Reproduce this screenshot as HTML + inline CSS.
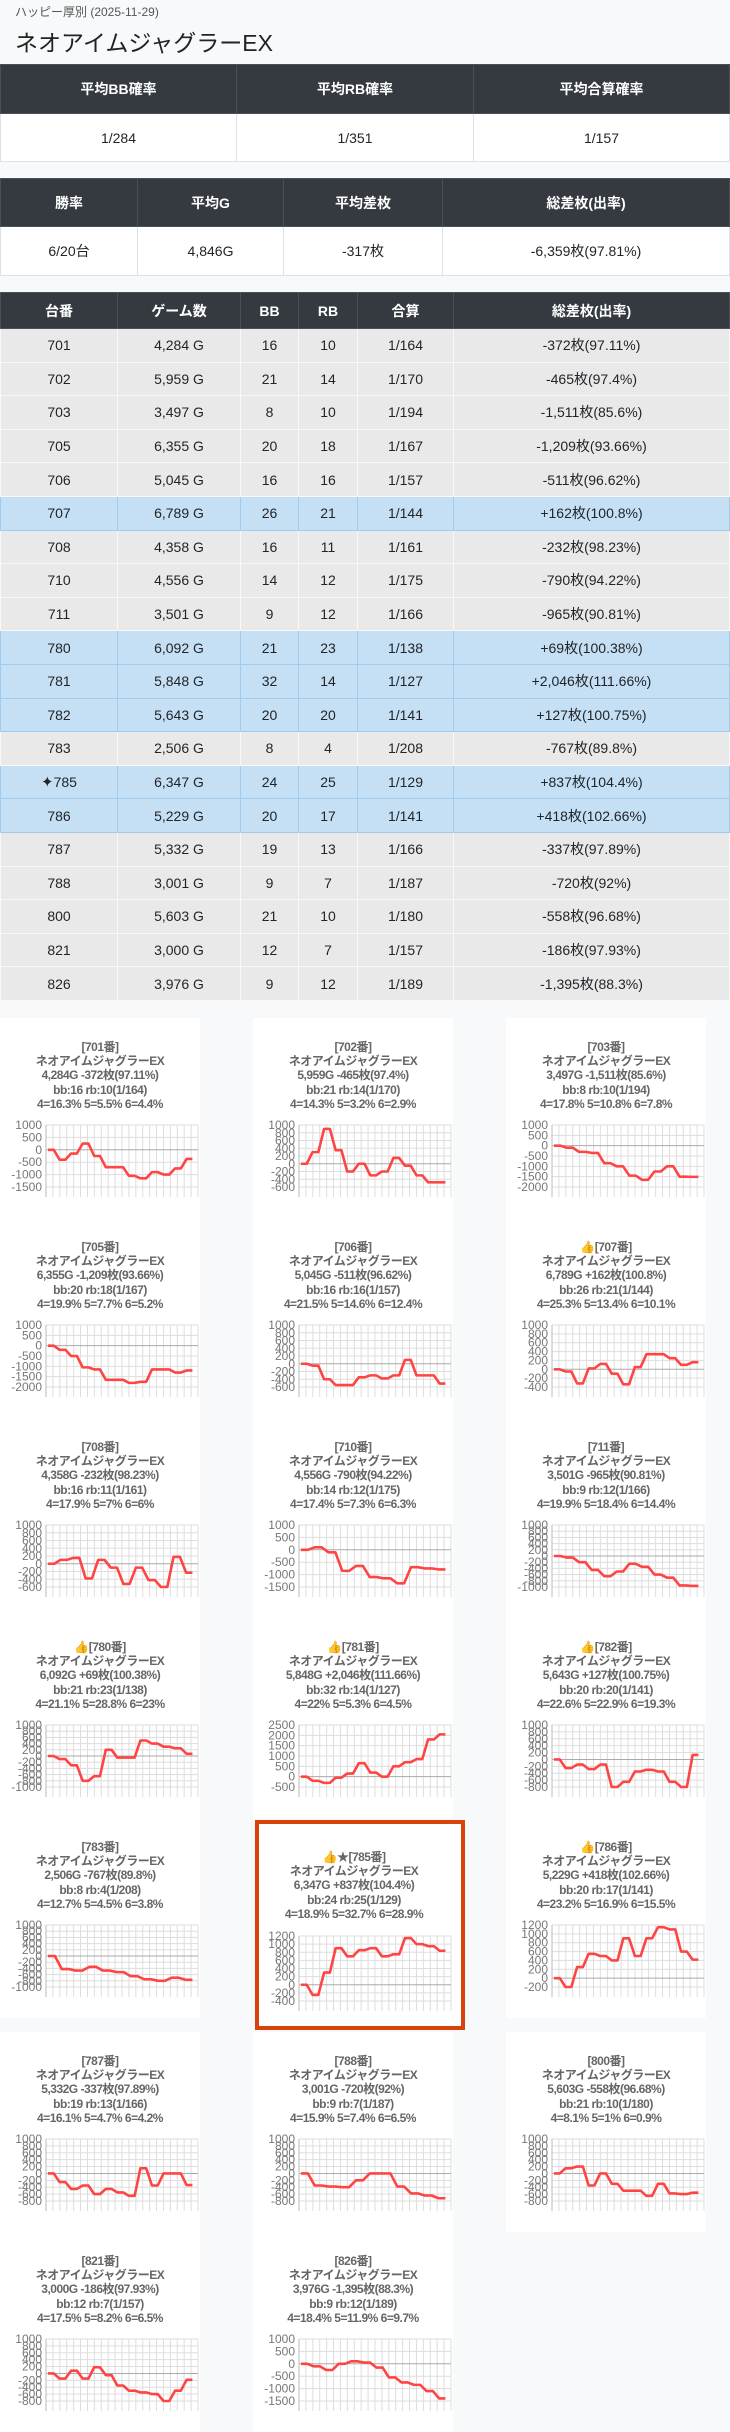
<!DOCTYPE html>
<html><head><meta charset="utf-8">
<style>
*{margin:0;padding:0;box-sizing:border-box}
body{width:730px;height:2431px;background:#f8f9fa;font-family:"Liberation Sans","Noto Sans CJK JP",sans-serif;color:#212529;position:relative;overflow:hidden}
.sub{position:absolute;left:15px;top:3px;font-size:12px;color:#555}
.ttl{position:absolute;left:15px;top:24px;font-size:23px;color:#222}
table{position:absolute;left:0;width:730px;border-collapse:collapse;table-layout:fixed;font-size:14px;text-align:center}
th{background:#343a40;color:#fff;font-weight:bold;border:1px solid #4a5058}
td{border:1px solid #dee2e6;background:#fff}
#t3 td{background:#e9e9e9;border:1px solid #f8f8f8}
#t3 tr.b td{background:#c5e0f5;border:1px solid #9fcbef}
.card{position:absolute;width:200px;height:200px;background:#fff}
.card .tx{position:absolute;left:0;width:100%;top:22px;text-align:center;font-size:12px;font-weight:bold;color:#666;line-height:14.2px;letter-spacing:-0.5px}
.card svg{position:absolute;left:0;top:0}
.hl{border:4px solid #d9420b;height:210px;width:210px}
</style></head><body>
<div class="sub">ハッピー厚別 (2025-11-29)</div>
<div class="ttl">ネオアイムジャグラーEX</div>

<table style="top:64px"><colgroup><col style="width:236px"><col style="width:237px"><col></colgroup>
<tr style="height:49px"><th>平均BB確率</th><th>平均RB確率</th><th>平均合算確率</th></tr>
<tr style="height:48px"><td>1/284</td><td>1/351</td><td>1/157</td></tr></table>

<table style="top:178px"><colgroup><col style="width:137px"><col style="width:146px"><col style="width:159px"><col></colgroup>
<tr style="height:48px"><th>勝率</th><th>平均G</th><th>平均差枚</th><th>総差枚(出率)</th></tr>
<tr style="height:49px"><td>6/20台</td><td>4,846G</td><td>-317枚</td><td>-6,359枚(97.81%)</td></tr></table>

<table id="t3" style="top:292px"><colgroup><col style="width:117px"><col style="width:123px"><col style="width:58px"><col style="width:59px"><col style="width:96px"><col></colgroup>
<tr style="height:36px"><th>台番</th><th>ゲーム数</th><th>BB</th><th>RB</th><th>合算</th><th>総差枚(出率)</th></tr>
<tbody id="rows"></tbody></table>

<div id="cards"></div>

<script>
const R=[
["701","4,284",16,10,"1/164","-372枚(97.11%)",0],
["702","5,959",21,14,"1/170","-465枚(97.4%)",0],
["703","3,497",8,10,"1/194","-1,511枚(85.6%)",0],
["705","6,355",20,18,"1/167","-1,209枚(93.66%)",0],
["706","5,045",16,16,"1/157","-511枚(96.62%)",0],
["707","6,789",26,21,"1/144","+162枚(100.8%)",1],
["708","4,358",16,11,"1/161","-232枚(98.23%)",0],
["710","4,556",14,12,"1/175","-790枚(94.22%)",0],
["711","3,501",9,12,"1/166","-965枚(90.81%)",0],
["780","6,092",21,23,"1/138","+69枚(100.38%)",1],
["781","5,848",32,14,"1/127","+2,046枚(111.66%)",1],
["782","5,643",20,20,"1/141","+127枚(100.75%)",1],
["783","2,506",8,4,"1/208","-767枚(89.8%)",0],
["785","6,347",24,25,"1/129","+837枚(104.4%)",1],
["786","5,229",20,17,"1/141","+418枚(102.66%)",1],
["787","5,332",19,13,"1/166","-337枚(97.89%)",0],
["788","3,001",9,7,"1/187","-720枚(92%)",0],
["800","5,603",21,10,"1/180","-558枚(96.68%)",0],
["821","3,000",12,7,"1/157","-186枚(97.93%)",0],
["826","3,976",9,12,"1/189","-1,395枚(88.3%)",0]];
let h="";
R.forEach(r=>{h+=`<tr class="${r[6]?'b':''}" style="height:33.6px"><td>${r[0]=="785"?'<span style="font-size:15px">✦</span>':''}${r[0]}</td><td>${r[1]} G</td><td>${r[2]}</td><td>${r[3]}</td><td>${r[4]}</td><td>${r[5]}</td></tr>`});
document.getElementById("rows").innerHTML=h;

const C=[
["[701番]","4,284G -372枚(97.11%)","bb:16 rb:10(1/164)","4=16.3% 5=5.5% 6=4.4%",1000,-1500,500,[0,-400,-150,250,-250,-700,-700,-1050,-1150,-900,-1000,-750,-370]],
["[702番]","5,959G -465枚(97.4%)","bb:21 rb:14(1/170)","4=14.3% 5=3.2% 6=2.9%",1000,-600,200,[0,300,900,350,-200,0,-300,-200,150,-50,-300,-480,-480]],
["[703番]","3,497G -1,511枚(85.6%)","bb:8 rb:10(1/194)","4=17.8% 5=10.8% 6=7.8%",1000,-2000,500,[0,-100,-300,-350,-850,-1000,-1450,-1650,-1250,-1000,-1500,-1510]],
["[705番]","6,355G -1,209枚(93.66%)","bb:20 rb:18(1/167)","4=19.9% 5=7.7% 6=5.2%",1000,-2000,500,[0,-200,-500,-1050,-1150,-1650,-1650,-1800,-1750,-1150,-1150,-1300,-1200]],
["[706番]","5,045G -511枚(96.62%)","bb:16 rb:16(1/157)","4=21.5% 5=14.6% 6=12.4%",1000,-600,200,[0,-50,-400,-550,-550,-350,-300,-380,-300,100,-300,-300,-510]],
["👍[707番]","6,789G +162枚(100.8%)","bb:26 rb:21(1/144)","4=25.3% 5=13.4% 6=10.1%",1000,-400,200,[0,-50,-320,20,120,-100,-340,50,340,340,250,100,160]],
["[708番]","4,358G -232枚(98.23%)","bb:16 rb:11(1/161)","4=17.9% 5=7% 6=6%",1000,-600,200,[0,100,150,-380,100,-100,-520,-100,-420,-600,180,-230]],
["[710番]","4,556G -790枚(94.22%)","bb:14 rb:12(1/175)","4=17.4% 5=7.3% 6=6.3%",1000,-1500,500,[0,100,-100,-850,-650,-1100,-1150,-1350,-700,-750,-790]],
["[711番]","3,501G -965枚(90.81%)","bb:9 rb:12(1/166)","4=19.9% 5=18.4% 6=14.4%",1000,-1000,200,[0,-50,-200,-450,-650,-500,-250,-350,-600,-700,-950,-965]],
["👍[780番]","6,092G +69枚(100.38%)","bb:21 rb:23(1/138)","4=21.1% 5=28.8% 6=23%",1000,-1000,200,[0,-100,-300,-800,-650,200,-50,-50,500,400,300,250,70]],
["👍[781番]","5,848G +2,046枚(111.66%)","bb:32 rb:14(1/127)","4=22% 5=5.3% 6=4.5%",2500,-500,500,[0,-200,-300,-50,150,650,200,0,500,700,850,1800,2046]],
["👍[782番]","5,643G +127枚(100.75%)","bb:20 rb:20(1/141)","4=22.6% 5=22.9% 6=19.3%",1000,-800,200,[0,-250,-150,-280,-150,-800,-650,-350,-300,-350,-650,-800,130]],
["[783番]","2,506G -767枚(89.8%)","bb:8 rb:4(1/208)","4=12.7% 5=4.5% 6=3.8%",1000,-1000,200,[0,-420,-470,-350,-470,-520,-650,-750,-800,-700,-767]],
["👍★[785番]","6,347G +837枚(104.4%)","bb:24 rb:25(1/129)","4=18.9% 5=32.7% 6=28.9%",1200,-400,200,[0,-250,300,900,700,850,900,700,750,1150,1000,950,837]],
["👍[786番]","5,229G +418枚(102.66%)","bb:20 rb:17(1/141)","4=23.2% 5=16.9% 6=15.5%",1200,-200,200,[0,-200,250,550,500,400,900,500,900,1150,1100,600,418]],
["[787番]","5,332G -337枚(97.89%)","bb:19 rb:13(1/166)","4=16.1% 5=4.7% 6=4.2%",1000,-800,200,[0,-250,-450,-350,-600,-450,-550,-650,150,-350,0,0,-337]],
["[788番]","3,001G -720枚(92%)","bb:9 rb:7(1/187)","4=15.9% 5=7.4% 6=6.5%",1000,-800,200,[0,-350,-380,-400,-200,0,0,-380,-580,-640,-720]],
["[800番]","5,603G -558枚(96.68%)","bb:21 rb:10(1/180)","4=8.1% 5=1% 6=0.9%",1000,-800,200,[0,150,200,-350,0,-300,-500,-500,-650,-300,-580,-600,-558]],
["[821番]","3,000G -186枚(97.93%)","bb:12 rb:7(1/157)","4=17.5% 5=8.2% 6=6.5%",1000,-800,200,[0,-150,80,-150,180,-50,-350,-500,-550,-600,-800,-500,-186]],
["[826番]","3,976G -1,395枚(88.3%)","bb:9 rb:12(1/189)","4=18.4% 5=11.9% 6=9.7%",1000,-1500,500,[0,-100,-250,0,100,50,-150,-550,-750,-850,-1100,-1395]]];
const XS=[0,253,506];
let out="";
C.forEach((c,i)=>{
 const row=Math.floor(i/3),col=i%3;
 let top=row<5?1018+200*row:(row==5?2032:2232);
 let hl=(c[0].indexOf("785")>=0);
 let left=XS[col], sh=0;
 let st=`left:${left}px;top:${top}px`;
 if(hl){st=`left:255px;top:1820px`;}
 const [t,l2,l3,l4,ymax,ymin,step,v]=c;
 const off=hl?3:0; // inner offset
 const dx=hl?-6:0;
 const y0=107+off+(hl?2:0), y1=169+off+(hl?5:0), yb=y1+10;
 const px0=46+dx, px1=198+dx;
 let s=`<svg width="${hl?202:200}" height="${hl?202:200}">`;
 const n=22;
 for(let k=0;k<=n;k++){const x=px0+(px1-px0)*k/n;s+=`<line x1="${x}" y1="${y0}" x2="${x}" y2="${yb}" stroke="#ddd" stroke-width="1"/>`;}
 const Y=val=>y0+(ymax-val)/(ymax-ymin)*(y1-y0);
 for(let tv=ymax;tv>=ymin-0.1;tv-=step){
  const y=Y(tv);
  s+=`<line x1="${px0}" y1="${y}" x2="${px1}" y2="${y}" stroke="${tv==0?'#aaa':'#ddd'}" stroke-width="1"/>`;
  s+=`<text x="${px0-4}" y="${y+4}" text-anchor="end" font-size="12" fill="#777" font-family="Liberation Sans">${tv}</text>`;
 }
 s+=`<line x1="${px0}" y1="${y0}" x2="${px0}" y2="${yb}" stroke="#bbb"/>`;
 const m=v.length, w=(px1-px0)*0.95/(2*m-1);
 let pts=[];
 v.forEach((val,k)=>{const y=Y(val);pts.push(`${px0+2+w*2*k},${y}`);pts.push(`${px0+2+w*(2*k+1)},${y}`);});
 s+=`<polyline points="${pts.join(" ")}" fill="none" stroke="#ff4444" stroke-width="2.6" stroke-linejoin="round"/>`;
 s+=`</svg>`;
 out+=`<div class="card${hl?' hl':''}" style="${st}"><div class="tx" style="top:${hl?26:22}px;left:${dx}px">${t}<br>ネオアイムジャグラーEX<br>${l2}<br>${l3}<br>${l4}</div>${s}</div>`;
});
document.getElementById("cards").innerHTML=out;
</script>
</body></html>
